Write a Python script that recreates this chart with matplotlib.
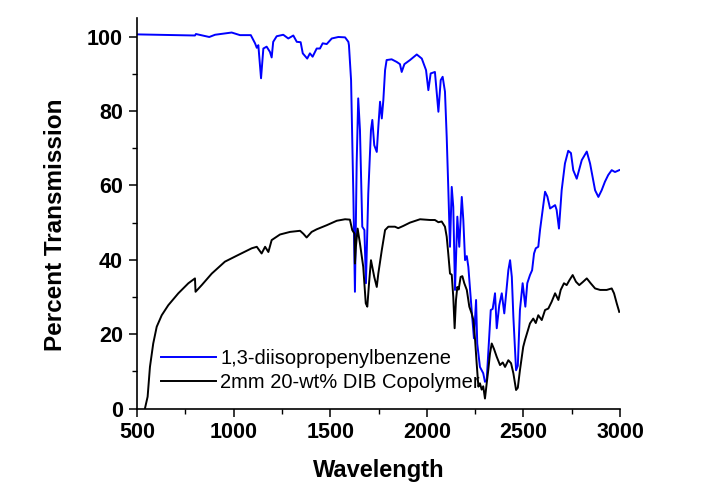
import matplotlib
matplotlib.use("Agg")
import matplotlib.pyplot as plt
from matplotlib.ticker import MultipleLocator

# 1,3-diisopropenylbenzene (blue)
dib_wl = [500, 800, 805, 874, 904, 990, 1033, 1089, 1111, 1120, 1128, 1142, 1154,
          1171, 1188, 1197, 1205, 1223, 1257, 1283, 1309, 1327, 1347, 1358, 1381,
          1395, 1409, 1430, 1447, 1461, 1482, 1508, 1542, 1577, 1594, 1597, 1608,
          1620, 1628, 1637, 1645, 1654, 1666, 1677, 1685, 1697, 1711, 1718, 1728,
          1741, 1749, 1758, 1767, 1775, 1784, 1792, 1818, 1844, 1861, 1870, 1884,
          1913, 1948, 1974, 1996, 2008, 2020, 2042, 2060, 2072, 2082, 2094, 2103,
          2111, 2120, 2129, 2137, 2146, 2158, 2168, 2181, 2189, 2198, 2207, 2215,
          2232, 2244, 2255, 2261, 2275, 2292, 2301, 2310, 2317, 2331, 2341, 2353,
          2362, 2375, 2388, 2401, 2414, 2422, 2431, 2440, 2448, 2462, 2471, 2482,
          2496, 2510, 2520, 2534, 2545, 2555, 2564, 2577, 2586, 2612, 2624, 2638,
          2664, 2672, 2684, 2698, 2715, 2732, 2746, 2758, 2776, 2802, 2828, 2845,
          2871, 2888, 2905, 2922, 2939, 2957, 2974, 2996]
dib_t = [100.6, 100.3, 100.7, 99.9, 100.5, 101.1, 100.4, 100.4, 98.2, 97.0, 97.7, 88.8, 96.8,
         97.3, 95.9, 94.4, 98.6, 100.1, 100.5, 99.5, 100.3, 98.6, 98.5, 95.5, 94.1,
         95.5, 94.6, 96.8, 96.8, 98.2, 98.0, 99.5, 99.9, 99.8, 98.6, 97.7, 88.3,
         56.9, 31.4, 66.0, 83.4, 74.9, 48.9, 48.0, 33.7, 57.8, 74.9, 77.6, 70.8,
         69.0, 75.7, 82.5, 78.0, 82.9, 91.0, 93.7, 93.9, 93.2, 92.6, 90.5, 92.6,
         93.7, 95.2, 94.1, 91.0, 85.6, 90.1, 90.5, 79.8, 88.3, 89.2, 85.2, 73.0,
         59.6, 43.5, 59.6, 54.2, 31.9, 51.6, 43.5, 56.9, 50.7, 39.9, 41.0, 38.1,
         26.5, 18.9, 29.2, 17.5, 11.2, 9.5, 7.2, 7.7, 14.0, 26.5, 26.8, 31.0,
         21.6, 27.8, 31.0, 25.6, 32.7, 37.2, 39.9, 35.4, 24.7, 10.3, 11.5, 26.5,
         33.7, 27.4, 33.7, 35.9, 37.2, 41.7, 43.1, 43.5, 48.0, 58.3, 57.0, 53.8,
         54.7, 53.4, 48.4, 58.7, 65.9, 69.3, 68.7, 64.1, 61.8, 66.8, 69.1, 65.9,
         58.7, 56.9, 58.7, 61.0, 62.8, 64.1, 63.6, 64.1]

# 2mm 20-wt% DIB copolymer (black)
cop_wl = [530, 541, 555, 567, 584, 602, 628, 662, 714, 766, 800, 803, 835, 887, 955,
          1024, 1094, 1120, 1145, 1163, 1180, 1197, 1240, 1292, 1344, 1361, 1378,
          1404, 1430, 1482, 1534, 1577, 1602, 1614, 1626, 1628, 1633, 1642, 1654,
          1671, 1684, 1692, 1701, 1711, 1728, 1741, 1749, 1767, 1784, 1801, 1835,
          1852, 1878, 1913, 1965, 2017, 2042, 2060, 2077, 2094, 2103, 2111, 2120,
          2129, 2137, 2144, 2151, 2158, 2165, 2175, 2184, 2194, 2207, 2220, 2232,
          2241, 2250, 2258, 2267, 2275, 2284, 2292, 2301, 2310, 2318, 2327, 2336,
          2348, 2362, 2379, 2393, 2405, 2422, 2436, 2448, 2462, 2471, 2482, 2499,
          2508, 2534, 2551, 2564, 2577, 2595, 2612, 2629, 2646, 2664, 2681, 2693,
          2710, 2724, 2738, 2755, 2772, 2789, 2807, 2828, 2848, 2871, 2897, 2931,
          2957, 2969, 2983, 2996]
cop_t = [-3.0, 0.0, 3.2, 11.2, 17.5, 22.0, 25.1, 27.8, 31.0, 33.7, 35.0, 31.4, 33.2, 36.3, 39.5,
         41.3, 43.1, 43.5, 41.7, 43.5, 42.1, 45.3, 46.8, 47.5, 47.8, 47.0, 46.0,
         47.5, 48.2, 49.3, 50.5, 50.9, 50.8, 48.0, 47.0, 39.0, 43.5, 48.4, 44.4,
         38.1, 28.3, 27.4, 33.7, 39.9, 35.4, 32.7, 36.3, 42.6, 48.0, 48.9, 48.9,
         48.5, 49.1, 50.0, 50.9, 50.7, 50.7, 50.1, 50.3, 48.9, 46.2, 41.7, 36.3,
         36.0, 30.0, 21.6, 29.2, 32.7, 32.0, 35.4, 35.6, 33.7, 31.9, 27.4, 25.6,
         23.8, 18.4, 12.2, 5.9, 6.8, 5.1, 6.0, 2.7, 6.8, 10.3, 14.8, 17.5,
         16.0, 13.9, 11.7, 12.4, 11.2, 13.0, 12.2, 9.5, 5.0, 5.6, 10.3, 16.6,
         18.4, 22.9, 24.2, 23.0, 25.1, 23.8, 26.5, 26.9, 28.7, 31.0, 29.2, 31.9,
         33.7, 33.2, 34.5, 35.9, 34.1, 33.2, 34.0, 35.0, 33.7, 32.3, 31.9, 31.9,
         32.3, 31.0, 28.3, 26.0]

x_ticks = [500, 1000, 1500, 2000, 2500, 3000]
y_ticks = [0, 20, 40, 60, 80, 100]

plt.rcParams["font.family"] = ["Liberation Sans", "DejaVu Sans"]

fig = plt.figure(figsize=(7.04, 4.87), dpi=100)
ax = fig.add_axes([0.1946, 0.161, 0.6861, 0.802])

ax.plot(dib_wl, dib_t, color="#0000ff", lw=1.4, label="1,3-diisopropenylbenzene")
ax.plot(cop_wl, cop_t, color="black", lw=1.4, label="2mm 20-wt% DIB Copolymer")

ax.set_xlim(500, 3000)
ax.set_ylim(0, 105)
ax.set_xticks(x_ticks)
ax.set_yticks(y_ticks)
ax.xaxis.set_minor_locator(MultipleLocator(250))
ax.yaxis.set_minor_locator(MultipleLocator(10))

for side in ("top", "right"):
    ax.spines[side].set_visible(False)
for side in ("left", "bottom"):
    ax.spines[side].set_linewidth(1.2)

ax.tick_params(which="major", direction="out", length=6, width=1.1, pad=4)
ax.tick_params(which="minor", direction="out", length=3.5, width=1.0)
for lab in ax.get_xticklabels() + ax.get_yticklabels():
    lab.set_fontsize(15.5)
    lab.set_fontweight("bold")

ax.set_xlabel("Wavelength", fontsize=17, fontweight="bold", labelpad=11)
ax.set_ylabel("Percent Transmission", fontsize=17.5, fontweight="bold")
ax.yaxis.set_label_coords(-0.145, 0.47)

ax.legend(loc="lower left", bbox_to_anchor=(0.012, -0.003), frameon=False,
          fontsize=14.5, handlelength=2.75, handletextpad=0.2, labelspacing=0.22,
          borderaxespad=0.5)

fig.savefig("out.png", dpi=100, facecolor="white")
